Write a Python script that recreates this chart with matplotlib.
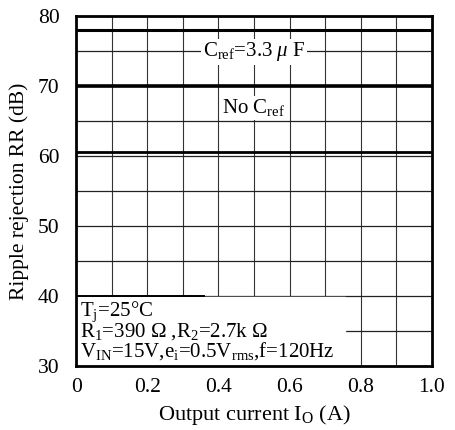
import matplotlib.pyplot as plt

plt.rcParams["font.family"] = ["Liberation Serif", "DejaVu Serif"]
plt.rcParams["mathtext.fontset"] = "custom"
plt.rcParams["mathtext.rm"] = "Liberation Serif"
plt.rcParams["mathtext.it"] = "Liberation Serif:italic"

# ripple rejection vs output current, flat over the load range
current = [0.0, 1.0]
rr_cref = [78, 78]
rr_nocref = [70, 70]
rr_upper = [60.6, 60.6]

x_ticks = [0, 0.2, 0.4, 0.6, 0.8, 1.0]
x_ticklabels = ["0", "0.2", "0.4", "0.6", "0.8", "1.0"]
y_ticks = [30, 40, 50, 60, 70, 80]

fig = plt.figure(figsize=(4.56, 4.30), dpi=100)
ax = fig.add_axes([0.167, 0.149, 0.78, 0.814])

ax.set_xlim(0, 1.0)
ax.set_ylim(30, 80)

# grid every 0.1 A and 5 dB
for gx in [i / 10 for i in range(1, 10)]:
    ax.axvline(gx, color="#333333", lw=0.8, zorder=1)
for gy in range(35, 80, 5):
    ax.axhline(gy, color="#222222", lw=0.9, zorder=1)

ax.plot(current, rr_cref, color="black", lw=2.2, zorder=3)
ax.plot(current, rr_nocref, color="black", lw=2.6, zorder=3)
ax.plot(current, rr_upper, color="black", lw=2.0, zorder=3)

ax.text(0.5, 74.9, r"C$_{\rm ref}$=3.3 $\mu$ F", ha="center", va="center",
        fontsize=15, zorder=4, bbox=dict(facecolor="white", edgecolor="none", pad=1))
ax.text(0.5, 66.9, r"No C$_{\rm ref}$", ha="center", va="center",
        fontsize=15, zorder=4, bbox=dict(facecolor="white", edgecolor="none", pad=1))

cond = ("T$_{\\rm j}$=25°C\n"
        "R$_{1}$=390 Ω ,R$_{2}$=2.7k Ω\n"
        "V$_{\\rm IN}$=15V,e$_{\\rm i}$=0.5V$_{\\rm rms}$,f=120Hz")
ax.fill_between([0, 0.755], 30, 39.85, color="white", zorder=2)
ax.plot([0, 0.36], [40, 40], color="black", lw=1.4, zorder=3)
ax.text(0.012, 30.6, cond, ha="left", va="bottom", fontsize=15,
        linespacing=0.85, zorder=4)

ax.set_xticks(x_ticks)
ax.set_xticklabels(x_ticklabels)
ax.set_yticks(y_ticks)
ax.tick_params(length=0, labelsize=15.5)
ax.tick_params(axis="y", pad=12)
ax.tick_params(axis="x", pad=9)

for side in ax.spines.values():
    side.set_linewidth(2.0)

ax.set_xlabel(r"Output current I$_{\rm O}$ (A)", fontsize=16, labelpad=4)
ax.set_ylabel("Ripple rejection RR (dB)", fontsize=15.5, labelpad=6)

fig.savefig("out.png", dpi=100)
